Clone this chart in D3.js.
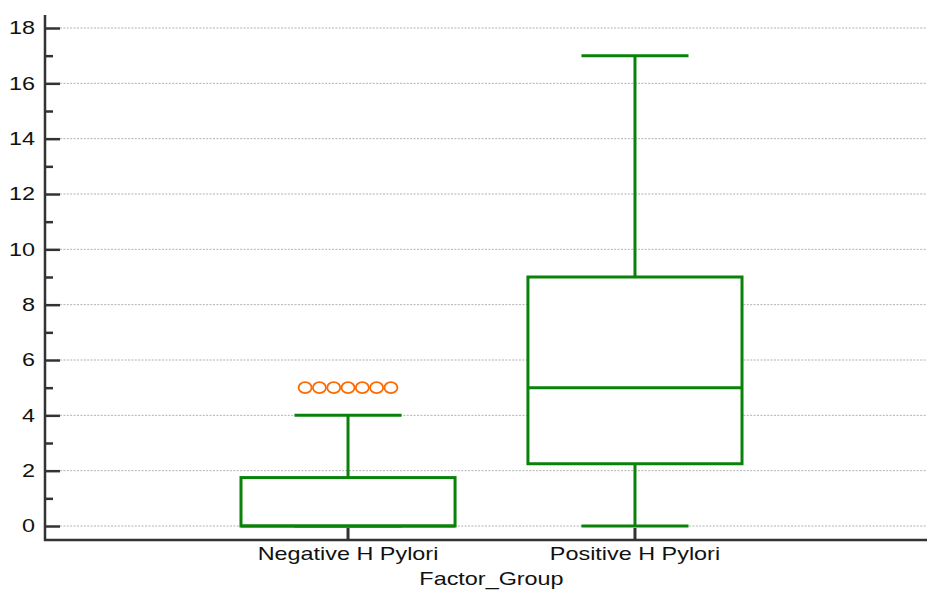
<!DOCTYPE html>
<html>
<head>
<meta charset="utf-8">
<script src="https://cdn.jsdelivr.net/npm/d3@7"></script>
<style>
  body { margin: 0; background: #fff; }
  text { font-family: "Liberation Sans", Arial, sans-serif; fill: #111; }
</style>
</head>
<body>
<div id="chart"></div>
<script>
var svgWidth = 927;
var svgHeight = 590;

var margin = { top: 15, right: -11, bottom: 50, left: 45 };
var width = svgWidth - margin.left - margin.right;
var height = svgHeight - margin.top - margin.bottom;

// Data
var groups = ["Negative H Pylori", "Positive H Pylori"];
var q1 = [0, 2.25];
var medians = [0, 5];
var q3 = [1.75, 9];
var whiskerLow = [0, 0];
var whiskerHigh = [4, 17];
var outliers = [[5, 5, 5, 5, 5, 5, 5], []];
var yTicks = [0, 2, 4, 6, 8, 10, 12, 14, 16, 18];

var green = "#0a820a";
// text in the original is stretched sideways
var stretch = 1.3;

var svg = d3.select("#chart")
  .append("svg")
  .attr("width", svgWidth)
  .attr("height", svgHeight);

var chartGroup = svg.append("g")
  .attr("transform", `translate(${margin.left}, ${margin.top})`);

var xScale = d3.scalePoint()
  .domain(groups)
  .range([0, width])
  .padding(1.056);

var step = xScale.step();
var boxW = step * 0.746;
var capW = boxW / 2;

// 0 sits at 526 on the page, 18 at 28
var yScale = d3.scaleLinear()
  .domain([0, 18])
  .range([511, 13]);

// gridlines
chartGroup.append("g")
  .selectAll("line")
  .data(yTicks)
  .enter()
  .append("line")
  .attr("x1", 15)
  .attr("x2", svgWidth - margin.left)
  .attr("y1", d => yScale(d))
  .attr("y2", d => yScale(d))
  .attr("stroke", "#b0b0b0")
  .attr("stroke-width", 1)
  .attr("stroke-dasharray", "2,1.4");

// y axis (ticks pointing inward)
var leftAxis = d3.axisRight(yScale)
  .tickValues(yTicks)
  .tickSize(15)
  .tickFormat("");
var minorAxis = d3.axisRight(yScale)
  .tickValues(d3.range(1, 18, 2))
  .tickSize(8)
  .tickFormat("");

chartGroup.append("g").call(leftAxis);
chartGroup.append("g").call(minorAxis);
chartGroup.selectAll(".domain").remove();
chartGroup.selectAll(".tick line")
  .attr("stroke", "#333")
  .attr("stroke-width", 2.5);

chartGroup.append("g")
  .selectAll("text")
  .data(yTicks)
  .enter()
  .append("text")
  .attr("transform", d => `translate(-10, ${yScale(d)}) scale(${stretch}, 1)`)
  .attr("dy", "0.36em")
  .attr("text-anchor", "end")
  .attr("font-size", "18px")
  .text(d => d);

// boxes
var boxes = chartGroup.selectAll(".box")
  .data(groups)
  .enter()
  .append("g")
  .classed("box", true);

// whisker stems
boxes.append("line")
  .attr("x1", d => xScale(d))
  .attr("x2", d => xScale(d))
  .attr("y1", (d, i) => yScale(whiskerHigh[i]))
  .attr("y2", (d, i) => yScale(whiskerLow[i]))
  .attr("stroke", green)
  .attr("stroke-width", 3);

// caps
boxes.each(function(d, i) {
  var g = d3.select(this);
  [whiskerLow[i], whiskerHigh[i]].forEach(function(v) {
    g.append("line")
      .attr("x1", xScale(d) - capW / 2)
      .attr("x2", xScale(d) + capW / 2)
      .attr("y1", yScale(v))
      .attr("y2", yScale(v))
      .attr("stroke", green)
      .attr("stroke-width", 3);
  });
});

boxes.append("rect")
  .attr("x", d => xScale(d) - boxW / 2)
  .attr("width", boxW)
  .attr("y", (d, i) => yScale(q3[i]))
  .attr("height", (d, i) => yScale(q1[i]) - yScale(q3[i]))
  .attr("fill", "#fff")
  .attr("stroke", green)
  .attr("stroke-width", 3);

boxes.append("line")
  .attr("x1", d => xScale(d) - boxW / 2)
  .attr("x2", d => xScale(d) + boxW / 2)
  .attr("y1", (d, i) => yScale(medians[i]))
  .attr("y2", (d, i) => yScale(medians[i]))
  .attr("stroke", green)
  .attr("stroke-width", 3);

// outliers, spread side by side
boxes.each(function(d, i) {
  var pts = outliers[i];
  var spread = 14.3;
  d3.select(this).selectAll("ellipse")
    .data(pts)
    .enter()
    .append("ellipse")
    .attr("cx", (v, j) => xScale(d) + (j - (pts.length - 1) / 2) * spread)
    .attr("cy", v => yScale(v))
    .attr("rx", 6.5)
    .attr("ry", 5.5)
    .attr("fill", "none")
    .attr("stroke", "#ff6a00")
    .attr("stroke-width", 1.8);
});

// x axis ticks (inward)
chartGroup.append("g")
  .selectAll("line")
  .data(groups)
  .enter()
  .append("line")
  .attr("x1", d => xScale(d))
  .attr("x2", d => xScale(d))
  .attr("y1", height)
  .attr("y2", height - 12)
  .attr("stroke", "#333")
  .attr("stroke-width", 3);

// axis lines
chartGroup.append("line")
  .attr("x1", 0).attr("x2", 0)
  .attr("y1", 0).attr("y2", height + 1)
  .attr("stroke", "#333").attr("stroke-width", 2.5);
chartGroup.append("line")
  .attr("x1", -1).attr("x2", svgWidth)
  .attr("y1", height).attr("y2", height)
  .attr("stroke", "#333").attr("stroke-width", 2.5);

// x tick labels
chartGroup.append("g")
  .selectAll("text")
  .data(groups)
  .enter()
  .append("text")
  .attr("transform", d => `translate(${xScale(d)}, ${height + 20}) scale(${stretch}, 1)`)
  .attr("text-anchor", "middle")
  .attr("font-size", "18px")
  .text(d => d);

// x axis title
chartGroup.append("text")
  .attr("transform", `translate(${width / 2}, ${height + 45}) scale(${stretch}, 1)`)
  .attr("text-anchor", "middle")
  .attr("font-size", "18px")
  .text("Factor_Group");
</script>
</body>
</html>
